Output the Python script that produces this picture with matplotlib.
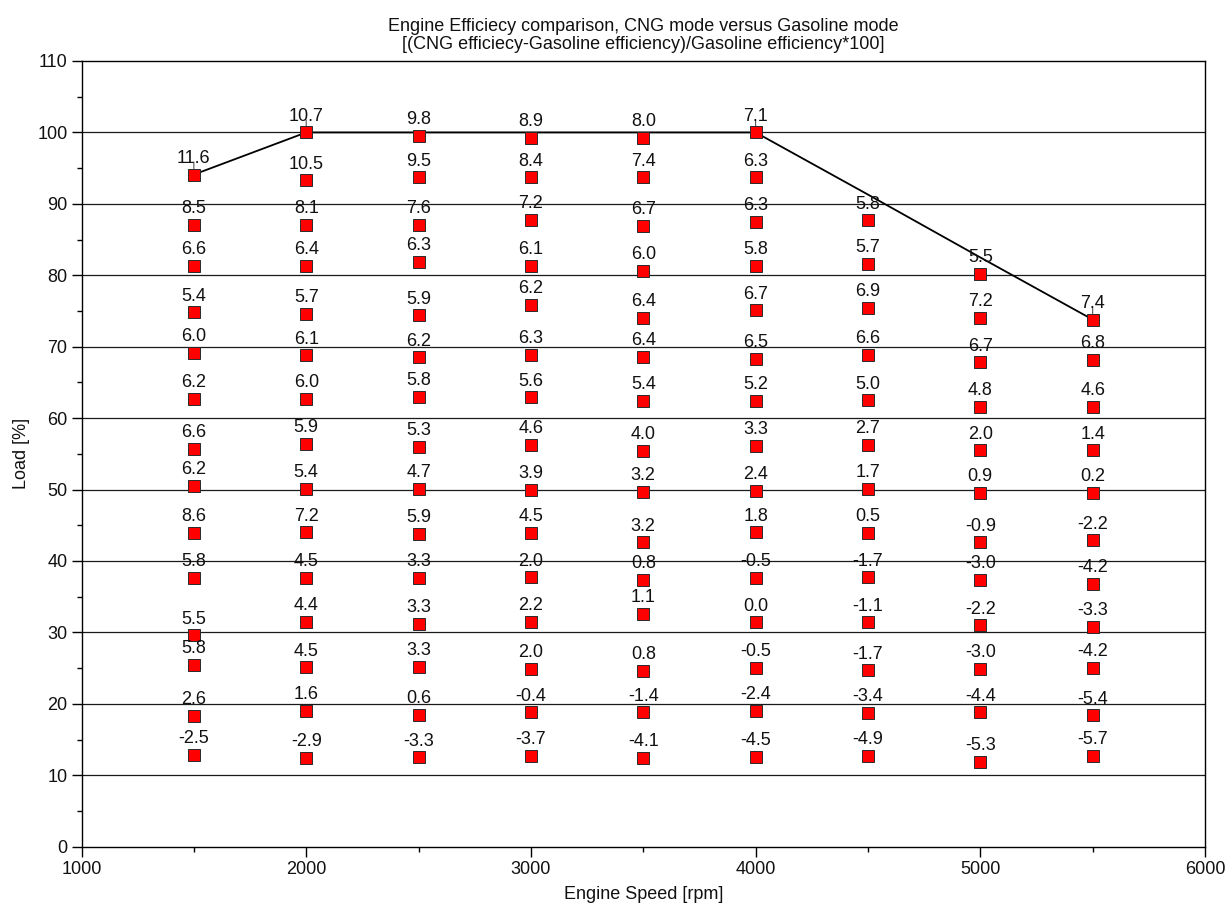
import matplotlib
matplotlib.use("Agg")
import matplotlib.pyplot as plt
from matplotlib.ticker import MultipleLocator

plt.rcParams['font.family'] = ['Liberation Sans', 'DejaVu Sans']

# ---- data ----
speeds = [1500, 2000, 2500, 3000, 3500, 4000, 4500, 5000, 5500]

load_1500 = [94.1, 87.1, 81.3, 74.8, 69.1, 62.7, 55.7, 50.5, 43.9, 37.6, 29.6, 25.5, 18.3, 12.9]
eff_1500 = [11.6, 8.5, 6.6, 5.4, 6.0, 6.2, 6.6, 6.2, 8.6, 5.8, 5.5, 5.8, 2.6, -2.5]

load_2000 = [100.0, 93.3, 87.1, 81.3, 74.6, 68.8, 62.7, 56.4, 50.1, 44.0, 37.6, 31.5, 25.1, 19.0, 12.4]
eff_2000 = [10.7, 10.5, 8.1, 6.4, 5.7, 6.1, 6.0, 5.9, 5.4, 7.2, 4.5, 4.4, 4.5, 1.6, -2.9]

load_2500 = [99.5, 93.7, 87.1, 81.9, 74.4, 68.5, 63.0, 56.0, 50.1, 43.8, 37.6, 31.2, 25.2, 18.5, 12.5]
eff_2500 = [9.8, 9.5, 7.6, 6.3, 5.9, 6.2, 5.8, 5.3, 4.7, 5.9, 3.3, 3.3, 3.3, 0.6, -3.3]

load_3000 = [99.2, 93.7, 87.8, 81.3, 75.9, 68.9, 62.9, 56.3, 50.0, 43.9, 37.7, 31.5, 24.9, 18.8, 12.7]
eff_3000 = [8.9, 8.4, 7.2, 6.1, 6.2, 6.3, 5.6, 4.6, 3.9, 4.5, 2.0, 2.2, 2.0, -0.4, -3.7]

load_3500 = [99.2, 93.7, 86.9, 80.6, 74.0, 68.6, 62.4, 55.4, 49.7, 42.6, 37.4, 32.6, 24.6, 18.8, 12.4]
eff_3500 = [8.0, 7.4, 6.7, 6.0, 6.4, 6.4, 5.4, 4.0, 3.2, 3.2, 0.8, 1.1, 0.8, -1.4, -4.1]

load_4000 = [100.0, 93.7, 87.5, 81.3, 75.1, 68.3, 62.4, 56.1, 49.8, 44.0, 37.6, 31.4, 25.0, 19.0, 12.6]
eff_4000 = [7.1, 6.3, 6.3, 5.8, 6.7, 6.5, 5.2, 3.3, 2.4, 1.8, -0.5, 0.0, -0.5, -2.4, -4.5]

load_4500 = [87.7, 81.6, 75.4, 68.9, 62.5, 56.3, 50.1, 43.9, 37.7, 31.4, 24.7, 18.7, 12.7]
eff_4500 = [5.8, 5.7, 6.9, 6.6, 5.0, 2.7, 1.7, 0.5, -1.7, -1.1, -1.7, -3.4, -4.9]

load_5000 = [80.2, 74.0, 67.8, 61.6, 55.5, 49.5, 42.6, 37.4, 31.0, 24.9, 18.8, 11.9]
eff_5000 = [5.5, 7.2, 6.7, 4.8, 2.0, 0.9, -0.9, -3.0, -2.2, -3.0, -4.4, -5.3]

load_5500 = [73.8, 68.2, 61.6, 55.5, 49.5, 42.9, 36.8, 30.8, 25.0, 18.4, 12.7]
eff_5500 = [7.4, 6.8, 4.6, 1.4, 0.2, -2.2, -4.2, -3.3, -4.2, -5.4, -5.7]

# full-load curve (black line)
fullload_speed = [1500, 2000, 2500, 3000, 3500, 4000, 4500, 5000, 5500]
fullload_load = [94.1, 100.0, 100.0, 100.0, 100.0, 100.0, 91.3, 82.5, 73.8]

# points whose label has a short leader line
leader_speed = [1500, 2000, 4000, 5500]
leader_load = [94.1, 100.0, 100.0, 73.8]

x_ticks = [1000, 2000, 3000, 4000, 5000, 6000]
y_ticks = [0, 10, 20, 30, 40, 50, 60, 70, 80, 90, 100, 110]

title = ("Engine Efficiecy comparison, CNG mode versus Gasoline mode\n"
         "[(CNG efficiecy-Gasoline efficiency)/Gasoline efficiency*100]")

loads = [load_1500, load_2000, load_2500, load_3000, load_3500,
         load_4000, load_4500, load_5000, load_5500]
effs = [eff_1500, eff_2000, eff_2500, eff_3000, eff_3500,
        eff_4000, eff_4500, eff_5000, eff_5500]

# ---- figure ----
fig = plt.figure(figsize=(12.28, 9.05), dpi=100)
ax = fig.add_axes([0.06637, 0.06442, 0.91490, 0.86818])

ax.set_xlim(1000, 6000)
ax.set_ylim(0, 110)
ax.set_xticks(x_ticks)
ax.set_yticks(y_ticks)
ax.xaxis.set_minor_locator(MultipleLocator(500))
ax.yaxis.set_minor_locator(MultipleLocator(5))

for yv in y_ticks[1:-1]:
    ax.axhline(yv, color='#1a1a1a', lw=0.9, zorder=1)

ax.plot(fullload_speed, fullload_load, color='black', lw=1.3, zorder=2)

for sp, ld_list, ef_list in zip(speeds, loads, effs):
    ax.plot([sp] * len(ld_list), ld_list, linestyle='none', marker='s',
            markersize=8.2, markerfacecolor='#ff0000',
            markeredgecolor='#2a2a2a', markeredgewidth=0.7, zorder=4)
    for ld, ef in zip(ld_list, ef_list):
        ax.annotate(f"{ef:.1f}", (sp, ld), xytext=(0, 8.4),
                    textcoords='offset points', ha='center', va='baseline',
                    fontsize=13, color='#111111', zorder=5)

for sp, ld in zip(leader_speed, leader_load):
    ax.annotate('', xy=(sp, ld), xytext=(0, 9.0), textcoords='offset points',
                arrowprops=dict(arrowstyle='-', color='#555555', lw=0.8,
                                shrinkA=0, shrinkB=4.0), zorder=3)

for s in ax.spines.values():
    s.set_color('black')
    s.set_linewidth(1.0)

ax.tick_params(axis='both', which='major', direction='out', length=7,
               width=1.0, color='black', labelsize=13, pad=3,
               labelcolor='#111111')
ax.tick_params(axis='both', which='minor', direction='out', length=3.5,
               width=1.0, color='black')

ax.set_xlabel('Engine Speed [rpm]', fontsize=13, labelpad=6, color='#111111')
ax.set_ylabel('Load [%]', fontsize=13, labelpad=5, color='#111111')
ax.set_title(title, fontsize=13, linespacing=1.12, pad=8.5, color='#111111')

fig.savefig('out.png', dpi=100)
